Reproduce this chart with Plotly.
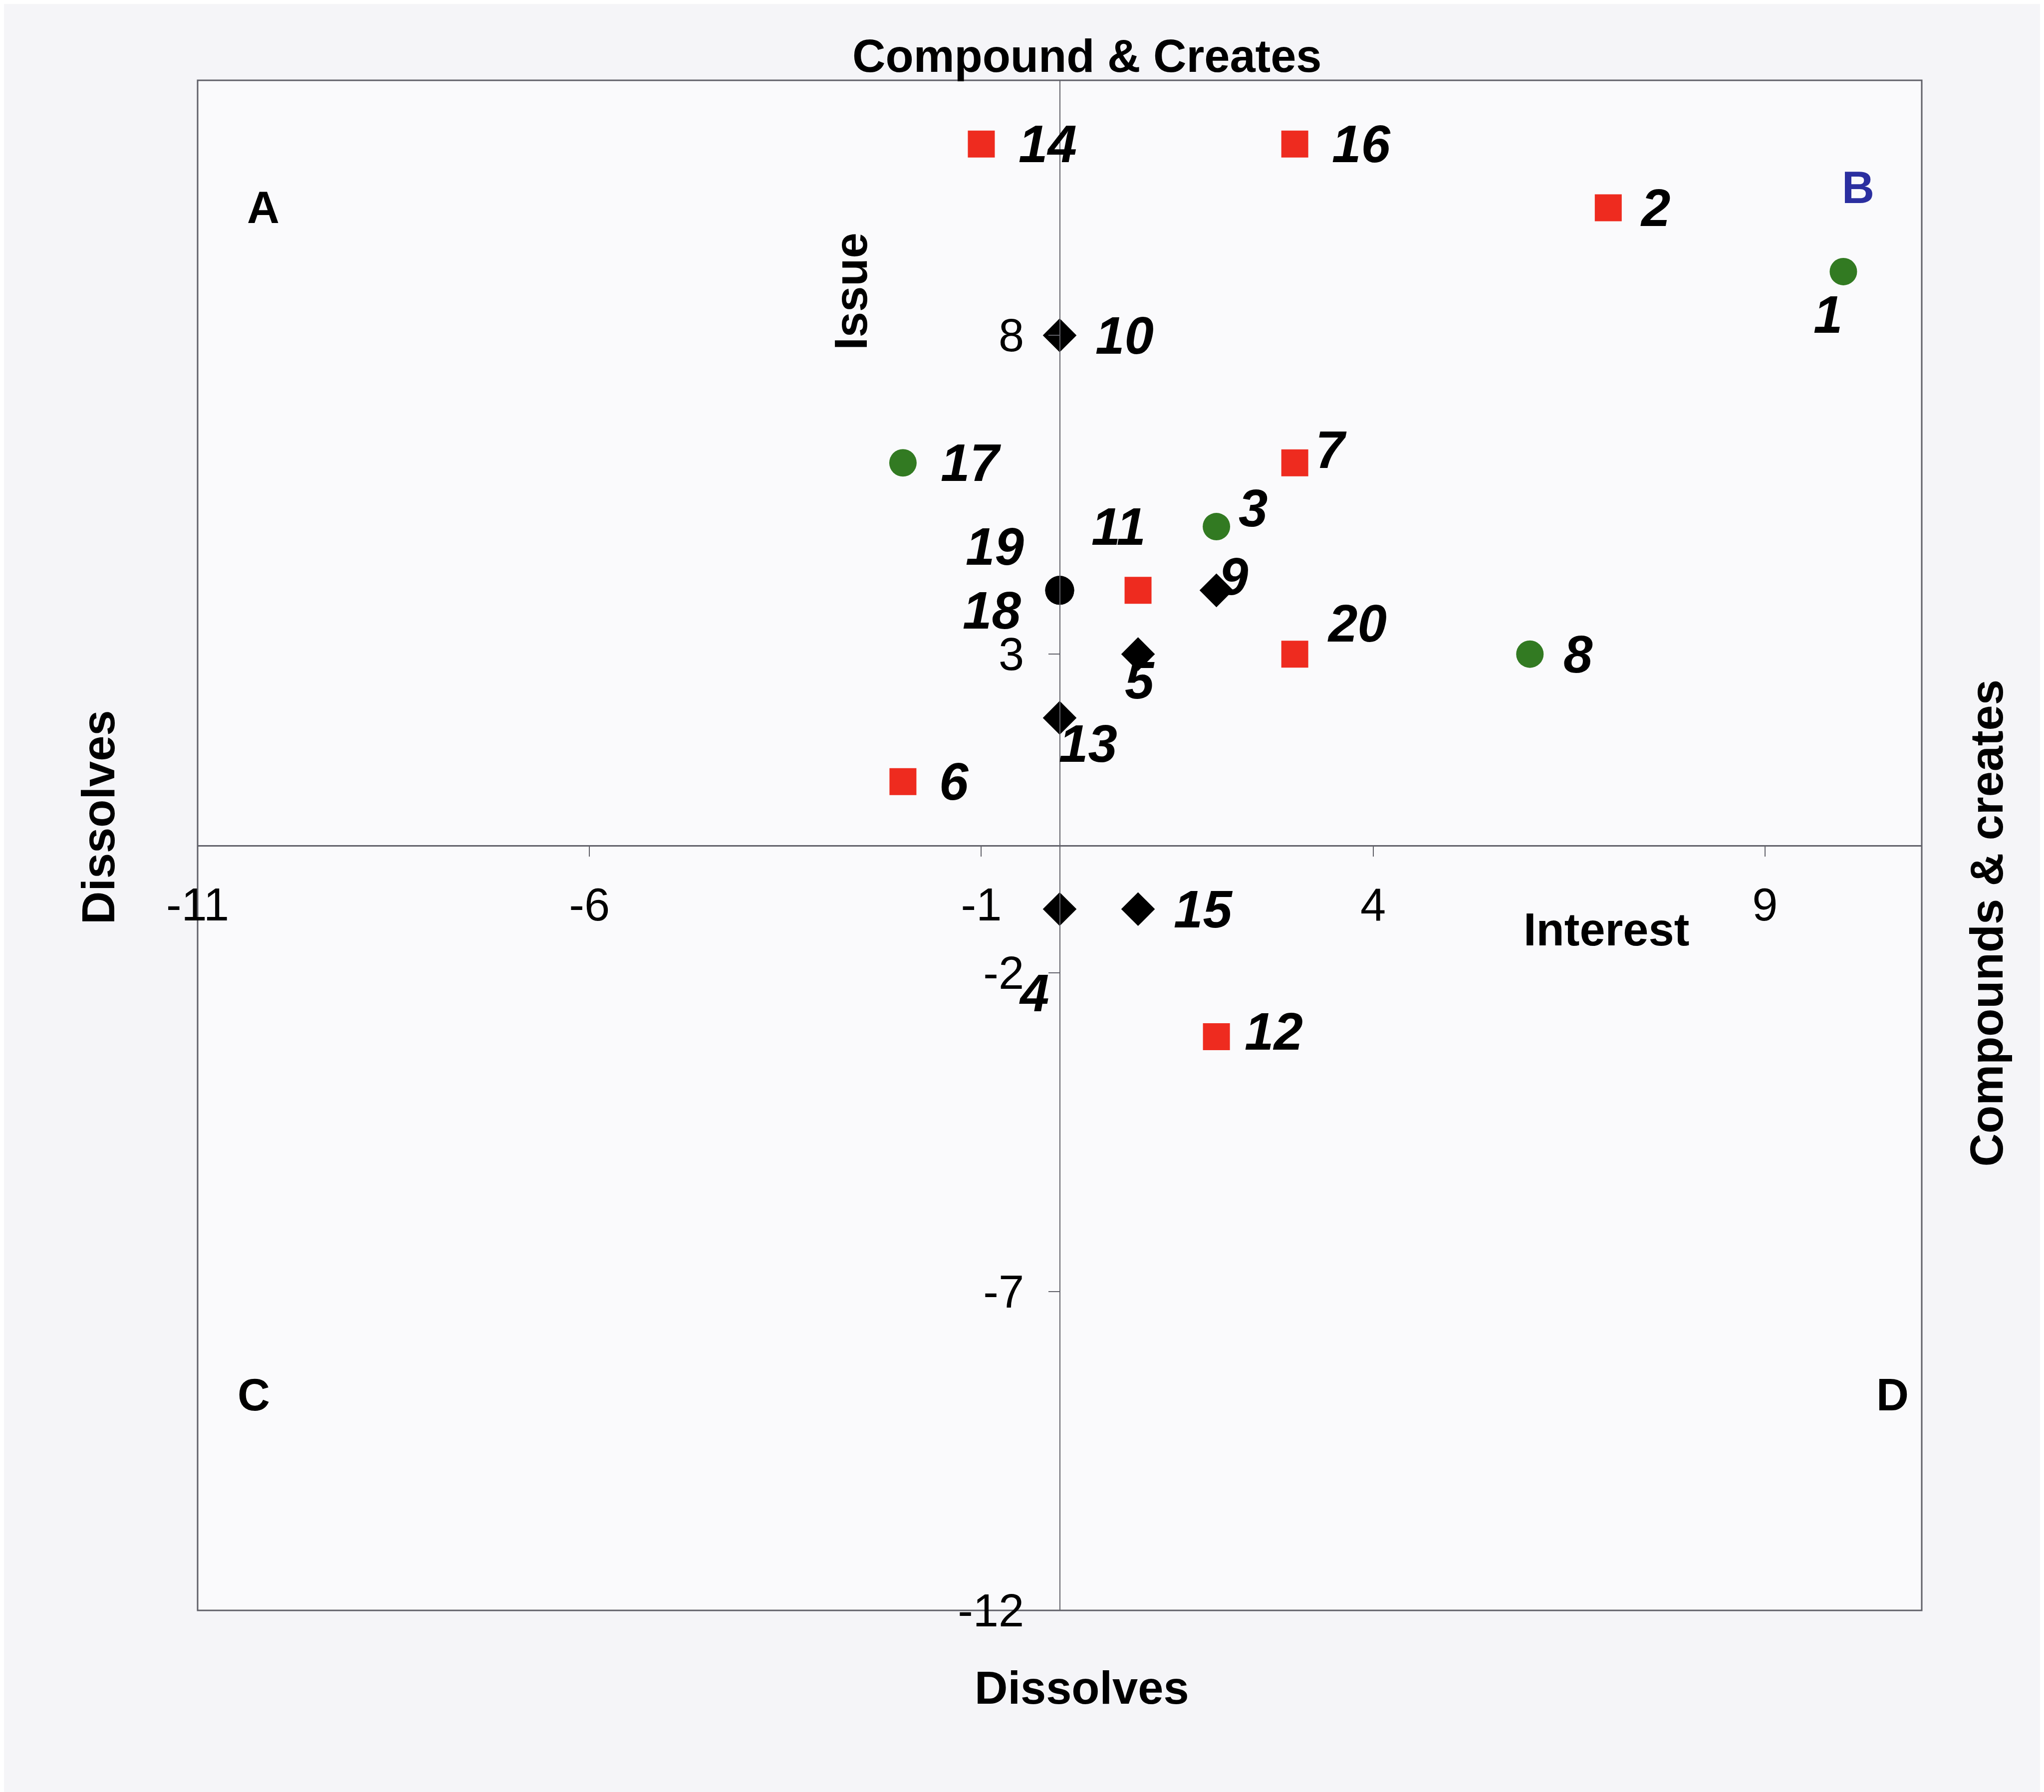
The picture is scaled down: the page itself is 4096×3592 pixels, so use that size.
import plotly.graph_objects as go

# ---- data ----
red_ids = ["14", "16", "2", "7", "11", "20", "6", "12"]
red_x = [-1, 3, 7, 3, 1, 3, -2, 2]
red_y = [11, 11, 10, 6, 4, 3, 1, -3]

green_ids = ["1", "17", "3", "8"]
green_x = [10, -2, 2, 6]
green_y = [9, 6, 5, 3]

diamond_ids = ["10", "9", "5", "13", "4", "15"]
diamond_x = [0, 2, 1, 0, 0, 1]
diamond_y = [8, 4, 3, 2, -1, -1]

circle_ids = ["19", "18"]
circle_x = [0, 0]
circle_y = [4, 4]

x_ticks = [-11, -6, -1, 4, 9]
y_ticks = [-12, -7, -2, 3, 8]

# ---- label offsets (style, in px) ----
label_offsets = {
    "14": (133, 0), "16": (133, 0), "2": (94, 0), "1": (-31, -86),
    "10": (130, 0), "17": (136, 0), "7": (73, 26), "3": (73, 37),
    "11": (-39, 128), "19": (-130, 88), "18": (-136, -40), "9": (34, 28),
    "20": (125, 62), "8": (97, 0), "5": (3, -52), "13": (57, -52),
    "6": (102, 0), "15": (130, 0), "4": (-52, -168), "12": (115, 10),
}

FONT = "Liberation Sans, Arial, sans-serif"
RED = "#ee2b1f"
GREEN = "#327a22"
AXIS = "#606068"

fig = go.Figure()
fig.add_trace(go.Scatter(x=red_x, y=red_y, mode="markers",
                         marker=dict(symbol="square", size=54, color=RED), name="red"))
fig.add_trace(go.Scatter(x=green_x, y=green_y, mode="markers",
                         marker=dict(symbol="circle", size=55, color=GREEN), name="green"))
fig.add_trace(go.Scatter(x=diamond_x, y=diamond_y, mode="markers",
                         marker=dict(symbol="diamond", size=52, color="#000000"), name="diamond"))
fig.add_trace(go.Scatter(x=circle_x, y=circle_y, mode="markers",
                         marker=dict(symbol="circle", size=58, color="#000000"), name="circle"))

annotations = []
for ids, xs, ys in [(red_ids, red_x, red_y), (green_ids, green_x, green_y),
                    (diamond_ids, diamond_x, diamond_y), (circle_ids, circle_x, circle_y)]:
    for lab, xv, yv in zip(ids, xs, ys):
        dx, dy = label_offsets[lab]
        annotations.append(dict(
            x=xv, y=yv, xref="x", yref="y", text=lab, showarrow=False,
            xshift=dx, yshift=dy, xanchor="center", yanchor="middle",
            font=dict(family=FONT, size=105, color="#000000", weight="bold", style="italic")))

title_font = dict(family=FONT, size=92, color="#000000", weight="bold")
texts = [
    ("Compound & Creates", 0.516, 1.016, 0),
    ("Dissolves", 0.513, -0.0506, 0),
    ("Dissolves", -0.0578, 0.5185, -90),
    ("Compounds & creates", 1.0375, 0.449, -90),
    ("Issue", 0.379, 0.862, -90),
    ("Interest", 0.817, 0.445, 0),
]
for t, px, py, ang in texts:
    annotations.append(dict(x=px, y=py, xref="paper", yref="paper", text=t,
                            showarrow=False, textangle=ang, xanchor="center",
                            yanchor="middle", font=title_font))

quad = [("A", 0.038, 0.917, "#000000"), ("B", 0.963, 0.930, "#2b2fa0"),
        ("C", 0.0326, 0.141, "#000000"), ("D", 0.983, 0.141, "#000000")]
for t, px, py, col in quad:
    annotations.append(dict(x=px, y=py, xref="paper", yref="paper", text=t,
                            showarrow=False, xanchor="center", yanchor="middle",
                            font=dict(family=FONT, size=90, color=col, weight="bold")))

fig.update_layout(
    width=4096, height=3592,
    margin=dict(l=388, r=253, t=153, b=372),
    paper_bgcolor="#f5f5f8",
    plot_bgcolor="#fafafc",
    showlegend=False,
    annotations=annotations,
    shapes=[dict(type="rect", xref="paper", yref="paper", x0=0, y0=0, x1=1, y1=1,
                 line=dict(color=AXIS, width=3), layer="below")],
    xaxis=dict(range=[-11, 11], tickvals=x_ticks, ticktext=[str(v) for v in x_ticks],
               anchor="free", position=0.5, showline=True, linecolor=AXIS, linewidth=3,
               ticks="outside", ticklen=20, tickwidth=2, tickcolor=AXIS,
               ticklabelstandoff=18, showgrid=False, zeroline=False,
               tickfont=dict(family=FONT, size=92, color="#000000")),
    yaxis=dict(range=[-12, 12], tickvals=y_ticks, ticktext=[str(v) for v in y_ticks],
               anchor="free", position=0.5, showline=True, linecolor=AXIS, linewidth=2,
               ticks="outside", ticklen=22, tickwidth=2, tickcolor=AXIS,
               ticklabelstandoff=30, showgrid=False, zeroline=False,
               tickfont=dict(family=FONT, size=92, color="#000000")),
)

fig.write_html("out.html")
